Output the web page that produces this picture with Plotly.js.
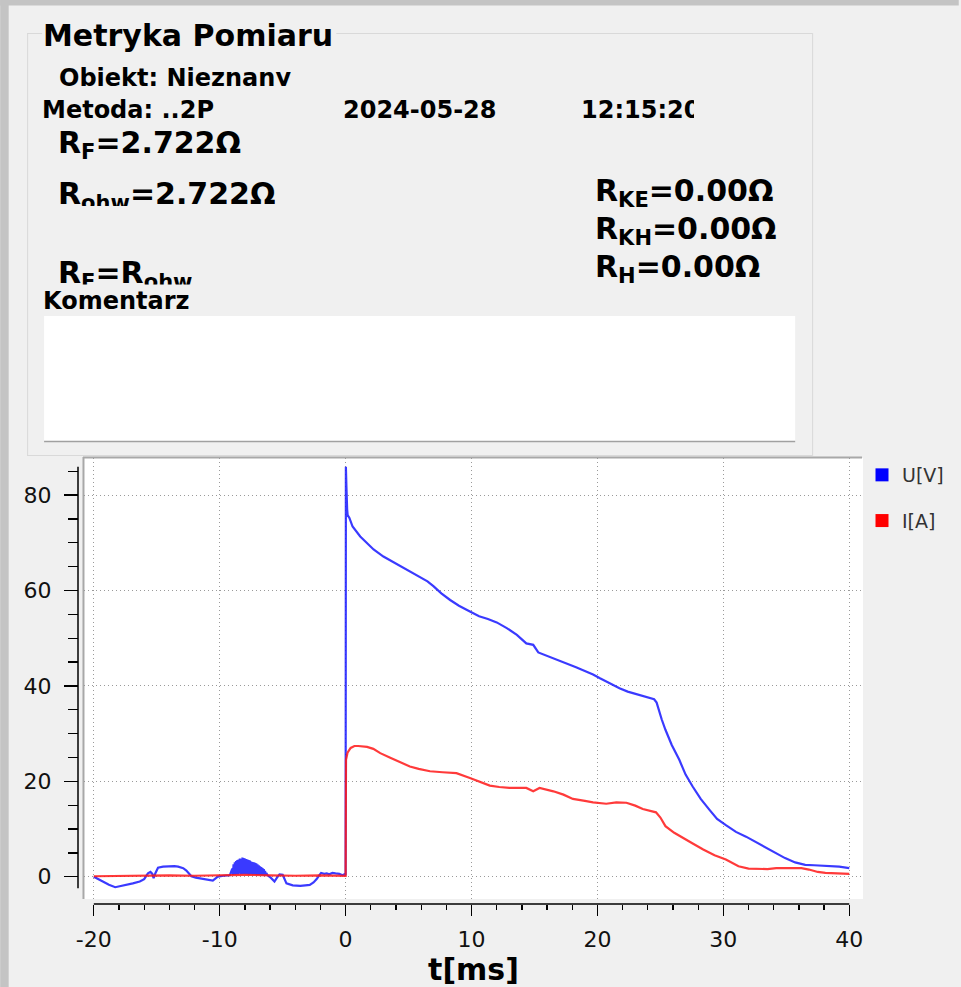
<!DOCTYPE html>
<html>
<head>
<meta charset="utf-8">
<script src="https://cdn.plot.ly/plotly-3.0.1.min.js"></script>
<style>html,body{margin:0;padding:0;background:#f0f0f0;overflow:hidden}</style>
</head>
<body>
<div id="chart" style="width:961px;height:987px"></div>
<script>
// ---------------- data ----------------
const seriesNames = ['U[V]', 'I[A]'];
const seriesColors = ['#1818ff', '#ff1818'];

// U[V] : time [ms]
const tU = [
  -20.0, -19.6, -19.2, -18.8, -18.3, -17.9, -17.4, -16.9, -16.35, -16.0,
  -15.7, -15.5, -15.35, -15.25, -15.1, -14.9, -14.5, -13.96, -13.6, -13.3,
  -12.9, -12.65, -12.4, -12.25, -11.9, -11.6, -11.1, -10.55, -10.35, -10.15,
  -9.7, -9.2,
  -9.0, -8.95, -8.9, -8.85, -8.8, -8.75, -8.7, -8.65, -8.6, -8.55,
  -8.5, -8.45, -8.4, -8.35, -8.3, -8.25, -8.2, -8.15, -8.1, -8.05,
  -8.0, -7.95, -7.9, -7.85, -7.8, -7.75, -7.7, -7.65, -7.6, -7.55,
  -7.5, -7.45, -7.4, -7.35, -7.3, -7.25, -7.2, -7.15, -7.1, -7.05,
  -7.0, -6.95, -6.9, -6.85, -6.8, -6.75, -6.7, -6.65, -6.6, -6.55,
  -6.5, -6.45, -6.4, -6.35, -6.3, -6.2,
  -5.95, -5.65, -5.45, -5.25, -5.0, -4.85, -4.7, -4.2, -3.6, -3.2,
  -2.85, -2.55, -2.3, -2.1, -1.95, -1.7, -1.5, -1.3, -1.05, -0.8,
  -0.5, -0.25, -0.1, 0.0,
  0.02, 0.06, 0.12, 0.16, 0.3, 0.55, 1.16, 1.6, 2.22, 3.0,
  3.6, 4.33, 5.1, 5.9, 6.5, 6.97, 7.6, 8.3, 9.0, 9.87,
  10.6, 11.3, 12.0, 12.8, 13.6, 14.35, 14.9, 15.3, 16.0, 16.8,
  17.5, 18.3, 19.0, 19.65, 20.2, 21.0, 21.75, 22.4, 23.07, 23.8,
  24.5, 24.7, 24.85, 25.1, 25.4, 25.9, 26.5, 27.0, 27.56, 28.2,
  28.9, 29.5, 30.2, 31.0, 31.8, 32.6, 33.4, 34.2, 34.9, 35.7,
  36.5, 37.2, 37.8, 38.5, 39.2, 40.0
];
const U = [
  0.0, -0.6, -1.1, -1.7, -2.2, -2.0, -1.7, -1.4, -1.0, -0.5,
  0.7, 1.0, 0.6, -0.3, 0.8, 1.9, 2.1, 2.2, 2.2, 2.1,
  1.8, 1.3, 0.6, 0.1, -0.2, -0.3, -0.5, -0.8, -0.4, 0.0,
  0.2, 0.3,
  1.7, 0.4, 2.6, 0.5, 3.0, 0.4, 3.3, 0.6, 3.5, 0.5,
  3.6, 0.7, 3.8, 0.5, 3.7, 0.6, 4.0, 0.5, 3.9, 0.6,
  3.8, 0.5, 3.7, 0.6, 3.6, 0.5, 3.5, 0.4, 3.4, 0.6,
  3.2, 0.5, 3.1, 0.4, 3.0, 0.5, 2.9, 0.4, 2.8, 0.3,
  2.6, 0.4, 2.4, 0.3, 2.2, 0.4, 2.0, 0.3, 1.8, 0.3,
  1.6, 0.2, 1.2, 0.3, 0.8, 0.3,
  -0.2, -1.0, -0.2, 0.5, 0.4, -0.6, -1.4, -1.8, -1.9, -1.8,
  -1.7, -1.2, -0.5, 0.3, 0.8, 0.6, 0.7, 0.5, 0.8, 0.7,
  0.6, 0.3, 0.5, 0.3,
  85.9, 82.0, 77.0, 75.8, 75.2, 73.4, 71.3, 70.2, 68.6, 67.1,
  66.2, 65.1, 64.0, 62.9, 61.9, 60.9, 59.4, 58.0, 56.8, 55.6,
  54.6, 54.0, 53.3, 52.1, 50.7, 48.9, 48.6, 47.0, 46.3, 45.5,
  44.8, 43.9, 43.1, 42.4, 41.6, 40.5, 39.5, 38.8, 38.3, 37.8,
  37.2, 36.5, 35.0, 33.0, 30.8, 27.6, 24.5, 21.4, 18.9, 16.3,
  14.0, 12.1, 10.8, 9.4, 8.4, 7.2, 6.0, 4.8, 3.9, 3.0,
  2.5, 2.4, 2.3, 2.2, 2.1, 1.8
];

// I[A] : time [ms]
const tI = [
  -20.0, -18.0, -16.0, -14.0, -12.0, -10.0, -8.0, -6.0, -4.0, -2.0,
  -0.05, 0.0, 0.03, 0.15, 0.4, 0.7, 1.0, 1.7, 2.2, 2.75,
  3.5, 4.33, 5.1, 5.8, 6.7, 7.7, 8.8, 9.87, 10.6, 11.45,
  12.2, 13.0, 14.35, 14.9, 15.4, 16.5, 17.3, 18.05, 19.0, 19.65,
  20.7, 21.5, 22.3, 23.0, 23.6, 24.65, 25.0, 25.4, 26.1, 26.8,
  27.6, 28.4, 29.3, 30.2, 31.2, 32.0, 32.9, 33.5, 34.2, 35.5,
  36.2, 36.8, 37.5, 38.1, 39.0, 40.0
];
const I = [
  0.1, 0.2, 0.3, 0.3, 0.2, 0.3, 0.4, 0.3, 0.2, 0.3,
  0.2, 0.2, 24.5, 26.0, 27.0, 27.4, 27.4, 27.2, 26.8, 25.9,
  25.0, 24.1, 23.1, 22.6, 22.1, 21.9, 21.7, 20.7, 19.9, 19.1,
  18.8, 18.6, 18.6, 17.9, 18.6, 17.9, 17.2, 16.3, 15.9, 15.6,
  15.3, 15.6, 15.5, 14.9, 14.2, 13.5, 12.4, 10.6, 9.2, 8.2,
  6.9, 5.7, 4.5, 3.6, 2.2, 1.7, 1.6, 1.6, 1.8, 1.9,
  1.8, 1.5, 1.0, 0.8, 0.7, 0.6
];

// axis ticks
const xTickVals = [-20, -10, 0, 10, 20, 30, 40];
const xTickText = ['-20', '-10', '0', '10', '20', '30', '40'];
const xMinorVals = [-18, -16, -14, -12, -8, -6, -4, -2, 2, 4, 6, 8, 12, 14, 16, 18, 22, 24, 26, 28, 32, 34, 36, 38];
const yTickVals = [0, 20, 40, 60, 80];
const yTickText = ['0', '20', '40', '60', '80'];
const yMinorVals = [5, 10, 15, 25, 30, 35, 45, 50, 55, 65, 70, 75, 85];
const xTitle = 't[ms]';

// ---------------- page geometry ----------------
const W = 961, H = 987;
const M = {l: 78, r: 96, t: 458, b: 83};
const PW = W - M.l - M.r, PH = H - M.t - M.b;
const fx = p => (p - M.l) / PW;
const fy = p => (H - M.b - p) / PH;

function rect(x0, y0, x1, y1, fill, layer) {
  return {type: 'rect', xref: 'paper', yref: 'paper', x0: fx(x0), x1: fx(x1), y0: fy(y1), y1: fy(y0),
          fillcolor: fill, line: {width: 0}, layer: layer || 'below'};
}
function seg(x0, y0, x1, y1, color, w, layer) {
  return {type: 'line', xref: 'paper', yref: 'paper', x0: fx(x0), x1: fx(x1), y0: fy(y0), y1: fy(y1),
          line: {color: color, width: w}, layer: layer || 'below'};
}

const shapes = [
  rect(0, 0, 8.5, H, '#c4c4c4'),
  rect(0, 0, W, 5.5, '#c4c4c4'),
  // group box
  seg(27, 33.5, 42, 33.5, '#d9d9d9', 1),
  seg(337, 33.5, 814, 33.5, '#d9d9d9', 1),
  seg(27.5, 33, 27.5, 456, '#d9d9d9', 1),
  seg(814.5, 33, 814.5, 456, '#d9d9d9', 1),
  seg(27, 455.5, 814, 455.5, '#d9d9d9', 1),
  // comment box
  rect(44, 316, 797, 441, '#ffffff'),
  seg(44, 441.5, 797, 441.5, '#a0a0a0', 1.5),
  // chart frame bevel
  seg(83, 457.5, 864, 457.5, '#a8a8a8', 2),
  seg(83.5, 457, 83.5, 899, '#a8a8a8', 2),
  // axis lines (span the tick range, as in the original)
  {type: 'line', xref: 'paper', yref: 'y', x0: 0, x1: 0, y0: -2.4, y1: 85.9, line: {color: '#000', width: 1.5}, layer: 'above'},
  {type: 'line', xref: 'x', yref: 'paper', x0: -20, x1: 40, y0: 0, y1: 0, line: {color: '#000', width: 1.5}, layer: 'above'}
];

const bold = 'DejaVu Sans';
function txt(text, x, y, size, extra) {
  return Object.assign({
    text: text, xref: 'paper', yref: 'paper', x: fx(x), y: fy(y),
    xanchor: 'left', yanchor: 'middle', showarrow: false, align: 'left',
    font: {family: bold, size: size, color: '#000', weight: 'bold'}, borderpad: 1
  }, extra || {});
}
function clipTxt(text, x, yTop, size, h, extra) {
  return txt(text, x, yTop, size, Object.assign({yanchor: 'top', valign: 'top', height: h}, extra || {}));
}

const annotations = [
  txt('Metryka Pomiaru', 41, 35, 30),
  clipTxt('Obiekt: Nieznany', 57, 62.2, 24, 22),
  txt('Metoda: ..2P', 40, 110, 24),
  txt('2024-05-28', 342, 110, 24),
  txt('12:15:20', 580, 110, 24, {width: 113}),
  txt('R<sub>F</sub>=2.722Ω', 56, 144, 30),
  clipTxt('R<sub>ohw</sub>=2.722Ω', 56, 174.2, 30, 30),
  clipTxt('R<sub>F</sub>=R<sub>ohw</sub>', 56, 252.9, 30, 29.5),
  txt('Komentarz', 41, 301, 24),
  txt('R<sub>KE</sub>=0.00Ω', 594, 192, 30),
  txt('R<sub>KH</sub>=0.00Ω', 594, 230, 30),
  txt('R<sub>H</sub>=0.00Ω', 594, 268.5, 30)
];

const traces = [
  {type: 'scatter', mode: 'lines', x: tU, y: U, name: seriesNames[0], legendgroup: 'u', showlegend: false,
   line: {color: seriesColors[0], width: 2.2}, opacity: 0.85, hoverinfo: 'skip'},
  {type: 'scatter', mode: 'lines', x: tI, y: I, name: seriesNames[1], legendgroup: 'i', showlegend: false,
   line: {color: seriesColors[1], width: 2.2}, opacity: 0.85, hoverinfo: 'skip'},
  {type: 'scatter', mode: 'markers', x: [null], y: [null], name: seriesNames[0], legendgroup: 'u',
   marker: {symbol: 'square', size: 13, color: '#0000ff'}},
  {type: 'scatter', mode: 'markers', x: [null], y: [null], name: seriesNames[1], legendgroup: 'i',
   marker: {symbol: 'square', size: 13, color: '#ff0000'}}
];

const tickFont = {family: 'DejaVu Sans', size: 22, color: '#111'};

const layout = {
  width: W, height: H,
  margin: {l: M.l, r: M.r, t: M.t, b: M.b, pad: 0},
  paper_bgcolor: '#f0f0f0',
  plot_bgcolor: '#ffffff',
  font: {family: 'DejaVu Sans', color: '#000'},
  showlegend: true,
  legend: {x: fx(864), xanchor: 'left', y: fy(456), yanchor: 'top', bgcolor: 'rgba(0,0,0,0)',
           font: {family: 'DejaVu Sans', size: 19, color: '#333'}, traceorder: 'grouped', tracegroupgap: 18,
           itemwidth: 30},
  xaxis: {
    domain: [fx(84), 1], range: [-20.78, 41.09], anchor: 'free', position: 0,
    tickmode: 'array', tickvals: xTickVals, ticktext: xTickText, ticks: 'outside', ticklen: 11, tickwidth: 1.3, tickcolor: '#000',
    minor: {tickmode: 'array', tickvals: xMinorVals, ticks: 'outside', ticklen: 5, tickwidth: 1.3, tickcolor: '#000', showgrid: false},
    showgrid: true, gridcolor: '#9a9a9a', gridwidth: 1, griddash: '1px,3px',
    zeroline: false, showline: false, tickfont: tickFont, ticklabelstandoff: 5,
    title: {text: xTitle, font: {family: 'DejaVu Sans', size: 30, color: '#000', weight: 'bold'}, standoff: 4},
    fixedrange: true
  },
  yaxis: {
    domain: [fy(899), 1], range: [-4.67, 87.76], anchor: 'free', position: 0,
    tickmode: 'array', tickvals: yTickVals, ticktext: yTickText, ticks: 'outside', ticklen: 14, tickwidth: 1.3, tickcolor: '#000',
    minor: {tickmode: 'array', tickvals: yMinorVals, ticks: 'outside', ticklen: 10, tickwidth: 1.3, tickcolor: '#000', showgrid: false},
    showgrid: true, gridcolor: '#9a9a9a', gridwidth: 1, griddash: '1px,3px',
    zeroline: false, showline: false, tickfont: tickFont, ticklabelstandoff: 8,
    fixedrange: true
  },
  shapes: shapes,
  annotations: annotations,
  hovermode: false
};

Plotly.newPlot('chart', traces, layout, {displayModeBar: false, staticPlot: true});
</script>
</body>
</html>
